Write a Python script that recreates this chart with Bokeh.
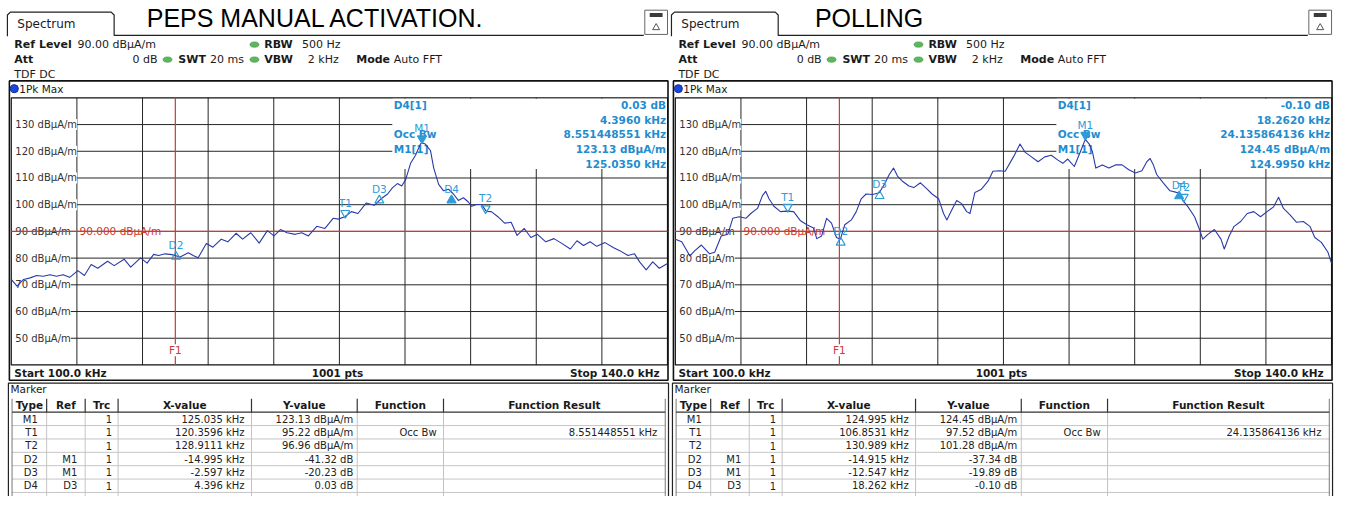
from bokeh.plotting import figure
from bokeh.models import Range1d
from bokeh.core.properties import value
from bokeh.embed import file_html
from bokeh.resources import INLINE

# ------------------------------------------------------------------ data
F_START, F_STOP = 100.0, 140.0
LEVEL_TOP, LEVEL_BOTTOM = 140.0, 40.0
Y_TICKS = [130, 120, 110, 100, 90, 80, 70, 60, 50]
X_GRID = [104, 108, 112, 116, 120, 124, 128, 132, 136]
REF_LEVEL = 90.0
F1_FREQ = 110.0
N_POINTS = 1001

REF_LEVEL_TXT = "90.00 dBµA/m"
ATT_TXT = "0 dB"
SWT_TXT = "20 ms"
RBW_TXT = "500 Hz"
VBW_TXT = "2 kHz"
MODE_TXT = "Auto FFT"
TDF_TXT = "TDF DC"
TRACE_NAME = "1Pk Max"

TITLES = ["PEPS MANUAL ACTIVATION.", "POLLING"]

L_FREQ = [100.0, 100.35, 100.75, 101.15, 101.55, 101.95, 102.36, 102.76, 103.16, 103.56,
          104.06, 104.46, 104.87, 105.27, 105.87, 106.27, 106.88, 107.28, 107.88, 108.28,
          108.68, 108.98, 109.38, 109.79, 110.29, 110.79, 111.09, 111.39, 111.89, 112.29,
          112.80, 113.20, 113.70, 114.10, 114.60, 115.11, 115.61, 116.01, 116.41, 116.81,
          117.31, 117.71, 118.11, 118.62, 119.12, 119.62, 119.93, 120.33, 120.73, 121.13,
          121.63, 122.13, 122.54, 122.94, 123.24, 123.54, 123.80, 124.04, 124.34, 124.64,
          124.94, 125.04, 125.24, 125.55, 125.75, 126.05, 126.35, 126.65, 126.95, 127.25,
          127.56, 127.86, 128.06, 128.36, 128.66, 128.96, 129.26, 129.66, 130.07, 130.47,
          130.83, 131.27, 131.67, 132.07, 132.58, 133.08, 133.48, 134.08, 134.48, 134.88,
          135.28, 135.69, 136.19, 136.69, 137.09, 137.59, 137.99, 138.30, 138.70, 139.10,
          139.50, 140.0]
L_LEVEL = [72.0, 69.5, 72.0, 72.6, 73.5, 73.2, 73.8, 73.2, 73.8, 72.8,
           75.3, 73.5, 77.6, 76.2, 78.8, 77.2, 79.6, 76.6, 80.1, 78.1,
           81.4, 81.0, 81.6, 81.3, 80.4, 82.0, 81.0, 80.1, 85.5, 84.1,
           87.1, 86.1, 89.3, 87.1, 89.5, 85.6, 90.3, 88.3, 90.7, 89.5,
           88.9, 89.5, 88.3, 91.9, 91.1, 94.9, 94.6, 95.5, 97.4, 96.7,
           100.6, 99.8, 102.2, 104.0, 106.4, 107.9, 107.0, 109.4, 115.5, 118.5,
           122.7, 123.1, 122.7, 120.3, 113.7, 107.6, 105.2, 105.8, 104.0, 101.6,
           102.6, 101.0, 99.4, 100.1, 100.1, 97.5, 97.4, 95.5, 93.1, 93.4,
           88.5, 91.1, 87.7, 88.9, 86.1, 87.3, 85.8, 83.4, 86.5, 84.7,
           86.1, 84.4, 85.8, 84.0, 82.8, 81.0, 81.6, 78.6, 75.6, 78.6,
           76.2, 78.0]

R_FREQ = [100.0, 100.39, 100.89, 101.19, 101.59, 102.09, 102.40, 102.80, 103.20, 103.50,
          103.90, 104.30, 104.60, 105.01, 105.31, 105.51, 105.71, 106.01, 106.41, 106.81,
          107.21, 107.61, 108.02, 108.42, 108.62, 108.92, 109.22, 109.52, 109.82, 110.06,
          110.33, 110.73, 111.03, 111.33, 111.63, 112.03, 112.43, 112.74, 113.04, 113.30,
          113.54, 113.84, 114.24, 114.54, 114.94, 115.35, 115.65, 116.05, 116.35, 116.55,
          116.85, 117.15, 117.45, 117.76, 117.96, 118.26, 118.66, 119.06, 119.36, 119.76,
          120.11, 120.61, 121.01, 121.31, 121.71, 122.11, 122.52, 122.92, 123.32, 123.62,
          123.92, 124.32, 124.72, 124.99, 125.23, 125.43, 125.63, 126.03, 126.43, 126.83,
          127.23, 127.64, 128.04, 128.44, 128.74, 128.94, 129.14, 129.34, 129.74, 130.15,
          130.55, 130.71, 130.95, 131.25, 131.65, 131.95, 132.15, 132.46, 132.86, 133.26,
          133.46, 133.76, 134.06, 134.46, 134.86, 135.26, 135.67, 136.07, 136.47, 136.77,
          137.07, 137.47, 137.87, 138.28, 138.68, 138.98, 139.38, 139.78, 140.0]
R_LEVEL = [87.1, 86.1, 80.8, 82.8, 84.9, 81.6, 82.2, 88.3, 88.9, 94.9,
           95.5, 94.9, 96.7, 98.6, 103.4, 105.0, 102.2, 99.4, 97.4, 97.6,
           97.4, 94.1, 92.5, 91.3, 87.3, 88.3, 94.9, 93.1, 87.7, 87.1,
           92.5, 94.3, 97.4, 102.2, 104.0, 103.8, 104.5, 107.6, 111.3, 113.7,
           110.7, 108.8, 107.0, 106.4, 108.2, 105.8, 104.0, 102.2, 96.7, 94.3,
           98.0, 101.6, 100.4, 97.4, 96.7, 104.6, 105.8, 108.8, 112.5, 112.7,
           112.5, 117.9, 122.7, 119.7, 117.9, 116.1, 117.9, 118.5, 116.7, 115.5,
           117.1, 114.3, 120.3, 124.45, 122.7, 119.7, 113.7, 114.9, 113.7, 114.9,
           114.9, 113.1, 111.9, 112.7, 116.1, 117.3, 114.9, 111.3, 108.2, 105.2,
           104.6, 104.4, 101.5, 99.2, 95.5, 90.7, 87.1, 88.9, 90.7, 87.1,
           83.4, 88.3, 91.9, 93.7, 96.7, 97.4, 95.5, 97.4, 99.2, 102.8,
           98.6, 96.2, 93.4, 93.7, 91.9, 87.7, 85.9, 82.2, 78.0]

TABLE_HEAD = ["Type", "Ref", "Trc", "X-value", "Y-value", "Function", "Function Result"]

L_TYPE = ["M1", "T1", "T2", "D2", "D3", "D4"]
L_REF = ["", "", "", "M1", "M1", "D3"]
L_TRC = ["1", "1", "1", "1", "1", "1"]
L_XVAL = ["125.035 kHz", "120.3596 kHz", "128.9111 kHz", "-14.995 kHz", "-2.597 kHz", "4.396 kHz"]
L_YVAL = ["123.13 dBµA/m", "95.22 dBµA/m", "96.96 dBµA/m", "-41.32 dB", "-20.23 dB", "0.03 dB"]
L_FUNC = ["", "Occ Bw", "", "", "", ""]
L_RES = ["", "8.551448551 kHz", "", "", "", ""]
L_INFO_LABELS = ["D4[1]", "", "Occ Bw", "M1[1]", ""]
L_INFO_VALUES = ["0.03 dB", "4.3960 kHz", "8.551448551 kHz", "123.13 dBµA/m", "125.0350 kHz"]

R_TYPE = ["M1", "T1", "T2", "D2", "D3", "D4"]
R_REF = ["", "", "", "M1", "M1", "D3"]
R_TRC = ["1", "1", "1", "1", "1", "1"]
R_XVAL = ["124.995 kHz", "106.8531 kHz", "130.989 kHz", "-14.915 kHz", "-12.547 kHz", "18.262 kHz"]
R_YVAL = ["124.45 dBµA/m", "97.52 dBµA/m", "101.28 dBµA/m", "-37.34 dB", "-19.89 dB", "-0.10 dB"]
R_FUNC = ["", "Occ Bw", "", "", "", ""]
R_RES = ["", "24.135864136 kHz", "", "", "", ""]
R_INFO_LABELS = ["D4[1]", "", "Occ Bw", "M1[1]", ""]
R_INFO_VALUES = ["-0.10 dB", "18.2620 kHz", "24.135864136 kHz", "124.45 dBµA/m", "124.9950 kHz"]

# ------------------------------------------------------------------ styling / layout
FONT = "DejaVu Sans"
TITLE_FONT = "Liberation Sans"
TRACE_COLOR = "#2a3aa8"
MARK_COLOR = "#2f9bd8"
INFO_COLOR = "#1f8dcf"
RED = "#cc3a30"
GRID_COLOR = "#262626"
TEXT_COLOR = "#1a1a1a"

W_REF, H_REF = 1352, 512
GRID_X0, GRID_X1 = 10.9, 675.0
GRID_Y0, GRID_Y1 = 100.5, 376.2
SHIFT = 672
KHZ_PER_PX = (F_STOP - F_START) / (GRID_X1 - GRID_X0)
PX_PER_DB = (GRID_Y1 - GRID_Y0) / (LEVEL_TOP - LEVEL_BOTTOM)
LABEL_GAP_PX = 4.5

MARKER_STYLE = {"M1": ("inverted_triangle", True), "T1": ("inverted_triangle", False),
                "T2": ("inverted_triangle", False), "D2": ("triangle", False),
                "D3": ("triangle", False), "D4": ("triangle", True)}


def freq_range(shift):
    x0 = GRID_X0 + shift
    return Range1d(F_START - x0 * KHZ_PER_PX, F_START + (W_REF - x0) * KHZ_PER_PX)


p = figure(width=1336, height=496, x_range=Range1d(0, W_REF), y_range=Range1d(H_REF, 0),
           output_backend="svg", toolbar_location=None, tools="",
           x_axis_location=None, y_axis_location=None, min_border=0,
           outline_line_color=None, background_fill_color="white", border_fill_color="white")
p.xgrid.grid_line_color = None
p.ygrid.grid_line_color = None
p.extra_x_ranges = {"f0": freq_range(0), "f1": freq_range(SHIFT)}
p.extra_y_ranges = {"db": Range1d(LEVEL_TOP - (H_REF - GRID_Y0) / PX_PER_DB,
                                  LEVEL_TOP + GRID_Y0 / PX_PER_DB)}


def T(x, y, s, size=11, color=TEXT_COLOR, align="left", bold=False, font=FONT,
      xr="default", yr="default", bg=None):
    xs = x if isinstance(x, list) else [x]
    ys = y if isinstance(y, list) else [y]
    ss = s if isinstance(s, list) else [s]
    kw = {}
    if bg:
        kw["background_fill_color"] = bg
    p.text(x=xs, y=ys, text=ss, text_font=value(font), text_font_size=f"{size}px",
           text_color=color, text_align=align, text_baseline="middle",
           text_font_style="bold" if bold else "normal",
           x_range_name=xr, y_range_name=yr, **kw)


def marker_positions(types, refs, xvals, yvals):
    pos = {}
    for t, r, xv, yv in zip(types, refs, xvals, yvals):
        x = float(xv.split()[0])
        y = float(yv.split()[0])
        if r:
            x += pos[r][0]
            y += pos[r][1]
        pos[t] = (x, y)
    return pos


PANELS = [
    dict(title=TITLES[0], title_x=319, freq=L_FREQ, level=L_LEVEL, types=L_TYPE, refs=L_REF,
         trc=L_TRC, xval=L_XVAL, yval=L_YVAL, func=L_FUNC, res=L_RES,
         info_l=L_INFO_LABELS, info_v=L_INFO_VALUES),
    dict(title=TITLES[1], title_x=879, freq=R_FREQ, level=R_LEVEL, types=R_TYPE, refs=R_REF,
         trc=R_TRC, xval=R_XVAL, yval=R_YVAL, func=R_FUNC, res=R_RES,
         info_l=R_INFO_LABELS, info_v=R_INFO_VALUES),
]

for i, P in enumerate(PANELS):
    g = SHIFT * i
    xr = f"f{i}"

    # ---------------- header
    T(P["title_x"], 18, P["title"], size=25, color="#000000", align="center", font=TITLE_FONT)
    p.line([7 + g, 7 + g, 10 + g, 112 + g, 115 + g, 115 + g, 651 + g],
           [37, 15, 12, 12, 15, 36, 36], line_color="#222222", line_width=1.2)
    T(17 + g, 24.5, "Spectrum", size=12)
    p.quad(left=[652 + g], right=[675 + g], top=[10], bottom=[35],
           fill_color="white", line_color="#666666", line_width=1)
    p.quad(left=[657 + g], right=[670 + g], top=[13], bottom=[17],
           fill_color="#3a3a3a", line_color=None)
    p.scatter([663.5 + g], [28], marker="triangle", size=7, fill_color=None,
              line_color="#555555", line_width=1)

    T(14 + g, 45.5, "Ref Level", bold=True)
    T(78 + g, 45.5, REF_LEVEL_TXT)
    T(267 + g, 45.5, "RBW", bold=True)
    T(305 + g, 45.5, RBW_TXT)
    T(14 + g, 61, "Att", bold=True)
    T(159 + g, 61, ATT_TXT, align="right")
    T(180 + g, 61, "SWT", bold=True)
    T(212 + g, 61, SWT_TXT)
    T(267 + g, 61, "VBW", bold=True)
    T(311 + g, 61, VBW_TXT)
    T(360 + g, 61, "Mode", bold=True)
    T(398 + g, 61, MODE_TXT)
    T(14 + g, 76, TDF_TXT)
    p.ellipse(x=[257 + g, 169 + g, 257 + g], y=[45.5, 61, 61], width=9, height=5.5,
              fill_color="#5cb85c", line_color="#3d8b3d", line_width=0.6)

    # ---------------- frame
    p.quad(left=[9 + g], right=[675.5 + g], top=[83], bottom=[392],
           fill_color=None, line_color="#111111", line_width=1.6)
    p.scatter([14 + g], [91], marker="circle", size=8, fill_color="#1f45e0",
              line_color="#0d2a8a", line_width=1)
    T(19 + g, 91, TRACE_NAME, size=10.5)

    # ---------------- grid
    nx, ny = len(X_GRID), len(Y_TICKS)
    p.segment(x0=X_GRID, x1=X_GRID, y0=[LEVEL_BOTTOM] * nx, y1=[LEVEL_TOP] * nx,
              x_range_name=xr, y_range_name="db", line_color=GRID_COLOR, line_width=1)
    h_start = F_START + LABEL_GAP_PX * KHZ_PER_PX
    p.segment(x0=[h_start] * ny, x1=[F_STOP] * ny, y0=Y_TICKS, y1=Y_TICKS,
              x_range_name=xr, y_range_name="db", line_color=GRID_COLOR, line_width=1)
    p.quad(left=[F_START], right=[F_STOP], top=[LEVEL_TOP], bottom=[LEVEL_BOTTOM],
           x_range_name=xr, y_range_name="db", fill_color=None,
           line_color="#111111", line_width=1.2)
    T([15 + g] * ny, Y_TICKS, [f"{t} dBµA/m" for t in Y_TICKS], size=10, color="#333333",
      yr="db", bg="white")
    # info box (covers grid)
    p.quad(left=[396.5 + g], right=[674.5 + g], top=[101.5], bottom=[174],
           fill_color="white", line_color=None)

    # reference level and frequency line
    p.segment(x0=[F_START], x1=[F_STOP], y0=[REF_LEVEL], y1=[REF_LEVEL],
              x_range_name=xr, y_range_name="db", line_color=RED, line_width=1.2)
    T(80 + g, REF_LEVEL, f"{REF_LEVEL:.3f} dBµA/m", size=10.5, color=RED, yr="db")
    p.segment(x0=[F1_FREQ], x1=[F1_FREQ], y0=[LEVEL_BOTTOM], y1=[LEVEL_TOP],
              x_range_name=xr, y_range_name="db", line_color=RED, line_width=1.2)
    T(F1_FREQ, 361, "F1", size=10.5, color=RED, align="center", xr=xr, bg="white")

    # info texts
    rows = [108.3 + 15 * k for k in range(len(P["info_v"]))]
    T([398 + g] * len(rows), rows, P["info_l"], size=10.5, color=INFO_COLOR, bold=True)
    T([673.5 + g] * len(rows), rows, P["info_v"], size=10.5, color=INFO_COLOR, bold=True,
      align="right")

    # ---------------- trace
    p.line(P["freq"], P["level"], x_range_name=xr, y_range_name="db",
           line_color=TRACE_COLOR, line_width=1.1, line_join="round")

    # ---------------- markers
    pos = marker_positions(P["types"], P["refs"], P["xval"], P["yval"])
    for name, (fx, ly) in pos.items():
        mk, filled = MARKER_STYLE[name]
        if mk == "inverted_triangle":
            cy = ly + 4.5 / PX_PER_DB
            lab = ly + 15 / PX_PER_DB
        else:
            cy = ly - 3.5 / PX_PER_DB
            lab = ly + 8.5 / PX_PER_DB
        p.scatter([fx], [cy], marker=mk, size=9, x_range_name=xr, y_range_name="db",
                  fill_color=MARK_COLOR if filled else None, line_color=MARK_COLOR,
                  line_width=1.2)
        T(fx, lab, name, size=10.5, color=MARK_COLOR, align="center", xr=xr, yr="db")

    # ---------------- footer of diagram
    T(14 + g, 384.5, f"Start {F_START:.1f} kHz", size=10.5, bold=True)
    T(341 + g, 384.5, f"{N_POINTS} pts", size=10.5, bold=True, align="center")
    T(667 + g, 384.5, f"Stop {F_STOP:.1f} kHz", size=10.5, bold=True, align="right")

    # ---------------- marker table
    p.quad(left=[8 + g], right=[676 + g], top=[395], bottom=[520],
           fill_color=None, line_color="#222222", line_width=1.2)
    T(10 + g, 401.5, "Marker", size=10.5)
    cols = [11.7, 46.7, 85.7, 119, 254, 361, 448.3, 672.7]
    cols = [c + g for c in cols]
    row_h = 13.8
    nrow = len(P["types"])
    seps = [425 + row_h * (k + 1) for k in range(nrow)]
    p.segment(x0=[cols[0]] * nrow, x1=[cols[-1]] * nrow, y0=seps, y1=seps,
              line_color="#c4c4c4", line_width=1)
    p.segment(x0=cols[1:-1], x1=cols[1:-1], y0=[425] * (len(cols) - 2),
              y1=[512] * (len(cols) - 2), line_color="#c4c4c4", line_width=1)
    p.segment(x0=[cols[0], cols[-1]], x1=[cols[0], cols[-1]], y0=[411, 411], y1=[512, 512],
              line_color="#777777", line_width=1)
    p.segment(x0=cols[1:-1], x1=cols[1:-1], y0=[411] * (len(cols) - 2),
              y1=[425] * (len(cols) - 2), line_color="#333333", line_width=1.2)
    p.segment(x0=[cols[0]], x1=[cols[-1]], y0=[425], y1=[425], line_color="#333333",
              line_width=1.2)
    centers = [(cols[k] + cols[k + 1]) / 2 for k in range(len(cols) - 1)]
    T(centers, [418] * len(centers), TABLE_HEAD, size=10.5, bold=True, align="center")
    ycent = [432 + row_h * k for k in range(nrow)]
    pads = [9, 8, 6, 7, 4, 7, 8]
    columns = [P["types"], P["refs"], P["trc"], P["xval"], P["yval"], P["func"], P["res"]]
    for k, col in enumerate(columns):
        T([cols[k + 1] - pads[k]] * nrow, ycent, col, size=10, color="#222222",
          align="right")

open("out.html", "w").write(file_html(p, INLINE))
